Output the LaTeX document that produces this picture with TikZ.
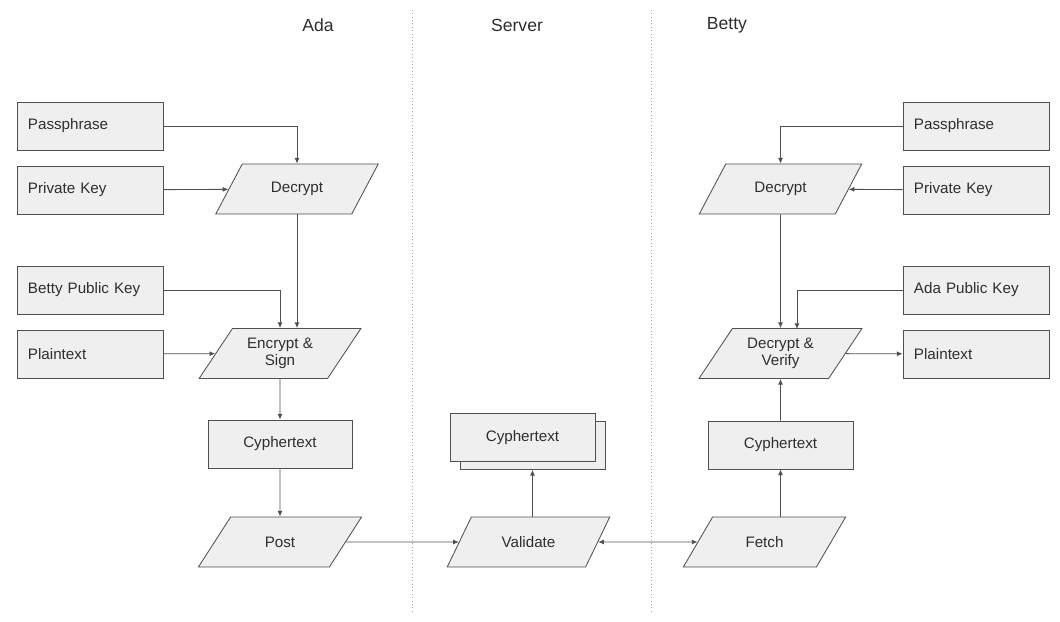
\documentclass[tikz,border=0pt]{standalone}
\usepackage{fontspec}
\setmainfont{Liberation Sans}
\usetikzlibrary{shapes.geometric, arrows.meta}
\definecolor{boxfill}{HTML}{EFEFEF}
\definecolor{boxline}{HTML}{505050}
\definecolor{textgray}{HTML}{2E2E2E}
\tikzset{
  keybox/.style={draw=boxline, line width=0.6pt, fill=boxfill, minimum width=3.65cm, minimum height=1.2cm,
    text=textgray, font=\fontsize{10.8}{12}\selectfont},
  stepbox/.style={trapezium, trapezium left angle=57, trapezium right angle=123,
    trapezium stretches=true, draw=boxline, line width=0.6pt, fill=boxfill, minimum width=4.08cm,
    minimum height=1.25cm, text=textgray, align=center, font=\fontsize{10.8}{12.5}\selectfont},
  heading/.style={text=textgray, font=\fontsize{12.5}{14}\selectfont},
  arr/.style={draw=boxline, line width=0.6pt, -{Latex[length=4pt,width=3.5pt]}},
}
\begin{document}
\begin{tikzpicture}[x=0.025cm, y=-0.025cm]
    \useasboundingbox (0,0) rectangle (1060,622);
    % Lanes
    \node[heading] (hada) at (318,25) {Ada};
    \node[heading] (hserver) at (517,25) {Server};
    \node[heading] (hbetty) at (727,25) {Betty};
    \draw[dotted, gray!70] (412,10) -- (412,612);
    \draw[dotted, gray!70] (651,10) -- (651,612);

    % Ada side
    \node[keybox, text width=3.1cm] (apass) at (90,126) {Passphrase};
    \node[keybox, text width=3.1cm] (apriv) at (90,190) {Private Key};
    \node[keybox, text width=3.1cm] (abpub) at (90,290) {Betty Public Key};
    \node[keybox, text width=3.1cm] (aplain) at (90,354) {Plaintext};
    \node[stepbox] (adec) at (297,189) {Decrypt};
    \node[stepbox] (aenc) at (280,353.5) {Encrypt \&\\Sign};
    \node[keybox, minimum width=3.6cm] (acyph) at (280,444) {Cyphertext};
    \node[stepbox] (apost) at (280,542) {Post};

    % Server
    \node[keybox, minimum width=3.62cm] (scyphback) at (532.5,445.5) {};
    \node[keybox, minimum width=3.62cm] (scyph) at (522.5,437.5) {Cyphertext};
    \node[stepbox] (vali) at (528.5,542) {Validate};

    % Betty side
    \node[keybox, text width=3.1cm] (bpass) at (976,126) {Passphrase};
    \node[keybox, text width=3.1cm] (bpriv) at (976,190) {Private Key};
    \node[keybox, text width=3.1cm] (bapub) at (976,290) {Ada Public Key};
    \node[keybox, text width=3.1cm] (bplain) at (976,354) {Plaintext};
    \node[stepbox] (bdec) at (780.5,189) {Decrypt};
    \node[stepbox] (bdv) at (780.5,353.5) {Decrypt \&\\Verify};
    \node[keybox, minimum width=3.62cm] (bcyph) at (780.5,445) {Cyphertext};
    \node[stepbox] (fetch) at (764.5,542) {Fetch};
    \coordinate (bdvin) at (797,329);

    % Connectors
    \draw[arr] (apass.east) -| (adec.north);
    \draw[arr] (apriv) -- (adec);
    \draw[arr] (adec.south) -- (adec.south |- aenc.north);
    \draw[arr] (abpub.east) -| (aenc.north);
    \draw[arr] (aplain) -- (aenc);
    \draw[arr] (aenc.south) -- (acyph.north);
    \draw[arr] (acyph.south) -- (apost.north);
    \draw[arr] (apost) -- (vali);
    \draw[arr] (vali.north -| scyphback.south) -- (scyphback.south);
    \draw[arr, {Latex[length=4pt,width=3.5pt]}-{Latex[length=4pt,width=3.5pt]}] (vali) -- (fetch);
    \draw[arr] (fetch.north -| bcyph.south) -- (bcyph.south);
    \draw[arr] (bcyph.north) -- (bdv.south);
    \draw[arr] (bdec.south) -- (bdv.north);
    \draw[arr] (bpass.west) -| (bdec.north);
    \draw[arr] (bpriv) -- (bdec);
    \draw[arr] (bapub.west) -| (bdvin);
    \draw[arr] (bdv) -- (bplain);
\end{tikzpicture}
\end{document}
